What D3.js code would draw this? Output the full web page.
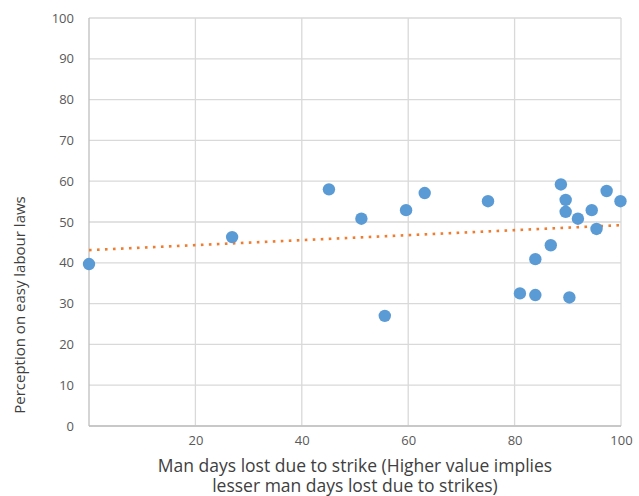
<!DOCTYPE html>
<html><head><meta charset="utf-8">
<script src="https://cdn.jsdelivr.net/npm/d3@7"></script>
<style>body{margin:0;background:#fff}svg{display:block}</style>
</head><body><svg id="c" width="639" height="496"></svg>
<script>
const xValues = [0, 26.9, 45.1, 51.2, 55.6, 59.6, 63.1, 75.0, 81.0, 83.9, 83.9, 86.8, 88.7, 89.6, 89.6, 90.3, 91.9, 94.5, 95.4, 97.3, 99.9];
const yValues = [39.7, 46.3, 58.0, 50.8, 27.0, 52.9, 57.1, 55.1, 32.5, 32.1, 40.9, 44.3, 59.2, 55.4, 52.5, 31.5, 50.8, 52.9, 48.3, 57.6, 55.1];
const xTicks = [20, 40, 60, 80, 100];
const yTicks = [0, 10, 20, 30, 40, 50, 60, 70, 80, 90, 100];
const xTitle = ["Man days lost due to strike (Higher value implies", "lesser man days lost due to strikes)"];
const yTitle = "Perception on easy labour laws";

const svg = d3.select("#c");
const font = "'Open Sans', 'Noto Sans', sans-serif";
const x = d3.scaleLinear().domain([0, 100]).range([89, 621]);
const y = d3.scaleLinear().domain([0, 100]).range([426, 18]);

// gridlines
svg.append("g").selectAll("line").data(yTicks).join("line")
  .attr("x1", x(0)).attr("x2", x(100)).attr("y1", d => y(d)).attr("y2", d => y(d))
  .attr("stroke", "#d9d9d9").attr("stroke-width", 1.3);
svg.append("g").selectAll("line").data(xTicks).join("line")
  .attr("y1", y(0)).attr("y2", y(100)).attr("x1", d => x(d)).attr("x2", d => x(d))
  .attr("stroke", "#d9d9d9").attr("stroke-width", 1.3);
// axes lines
svg.append("line").attr("x1", x(0)).attr("x2", x(0)).attr("y1", y(0)).attr("y2", y(100)).attr("stroke", "#bfbfbf").attr("stroke-width", 1.3);
svg.append("line").attr("x1", x(0)).attr("x2", x(100)).attr("y1", y(0)).attr("y2", y(0)).attr("stroke", "#bfbfbf").attr("stroke-width", 1.3);

// tick labels
const yAxis = svg.append("g").attr("transform", `translate(${x(0)},0)`)
  .call(d3.axisLeft(y).tickValues(yTicks).tickSize(0).tickPadding(15));
yAxis.select(".domain").remove();
yAxis.selectAll("text").attr("font-family", font).attr("font-size", 13).attr("fill", "#595959");
const xAxis = svg.append("g").attr("transform", `translate(0,${y(0)})`)
  .call(d3.axisBottom(x).tickValues(xTicks).tickSize(0).tickPadding(10));
xAxis.select(".domain").remove();
xAxis.selectAll("text").attr("font-family", font).attr("font-size", 13).attr("fill", "#595959");

// trendline (least squares)
const n = xValues.length;
const mx = d3.mean(xValues), my = d3.mean(yValues);
let sxy = 0, sxx = 0;
for (let i = 0; i < n; i++) { sxy += (xValues[i]-mx)*(yValues[i]-my); sxx += (xValues[i]-mx)**2; }
const slope = sxy / sxx, icpt = my - slope*mx;
const xr = d3.extent(xValues);
svg.append("line")
  .attr("x1", x(xr[0])).attr("y1", y(icpt + slope*xr[0]))
  .attr("x2", x(xr[1])).attr("y2", y(icpt + slope*xr[1]))
  .attr("stroke", "#ed7d31").attr("stroke-width", 2.6).attr("stroke-dasharray", "2.6,5.4");

// points
svg.append("g").selectAll("circle").data(xValues.map((d, i) => [d, yValues[i]])).join("circle")
  .attr("cx", d => x(d[0])).attr("cy", d => y(d[1])).attr("r", 6.2).attr("fill", "#5b9bd5");

// titles
svg.append("text").attr("transform", "translate(25,305) rotate(-90)").attr("text-anchor", "middle")
  .attr("font-family", font).attr("font-size", 15).attr("fill", "#404040").text(yTitle);
svg.append("g").selectAll("text").data(xTitle).join("text")
  .attr("x", 355).attr("y", (d, i) => 472 + i*20).attr("text-anchor", "middle")
  .attr("font-family", font).attr("font-size", 17.5).attr("fill", "#404040").text(d => d);
</script></body></html>
